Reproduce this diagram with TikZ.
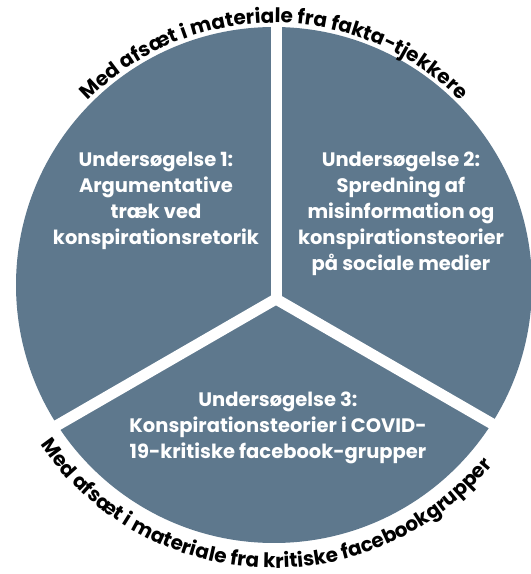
\documentclass[tikz,border=0pt]{standalone}
\usepackage{fontspec}
\setmainfont{Poppins}
\usetikzlibrary{decorations.text}
\definecolor{sectorblue}{RGB}{94,120,141}
\newcommand\arcfont{\bfseries\fontsize{20}{20}\selectfont}

\begin{document}
\begin{tikzpicture}[
    x=1pt, y=1pt,
    study/.style={text=white, font=\bfseries\fontsize{19.5}{26}\selectfont, align=center},
    gap/.style={draw=white, line width=11pt},
    arctext/.style={decorate, decoration={text along path, text align=center, text={#1}}}
]
\useasboundingbox (0,0) rectangle (531,574);
\coordinate (centre) at (274,289);
\coordinate (hub) at (276,275);

% disc
\fill[sectorblue] (centre) circle[radius=258];

% gaps between the sectors
\draw[gap] (hub) -- ++(90:280);
\draw[gap] (hub) -- ++(210:280);
\draw[gap] (hub) -- ++(330:280);

% sector texts
\node[study] (study1) at (156,373) {Undersøgelse 1:\\Argumentative\\træk ved\\konspirationsretorik};
\node[study] (study2) at (401,360) {Undersøgelse 2:\\Spredning af\\misinformation og\\konspirationsteorier\\på sociale medier};
\node[study] (study3) at (278,146) {Undersøgelse 3:\\Konspirationsteorier i COVID-\\19-kritiske facebook-grupper};

% text round the edge
\path[arctext={|\arcfont|Med afsæt i materiale fra fakta-tjekkere}]
    (centre) ++(136:262) arc[start angle=136, end angle=44, radius=262];
\path[arctext={|\arcfont|Med afsæt i materiale fra kritiske facebookgrupper}]
    (centre) ++(205:283) arc[start angle=205, end angle=330, radius=283];
\end{tikzpicture}
\end{document}
